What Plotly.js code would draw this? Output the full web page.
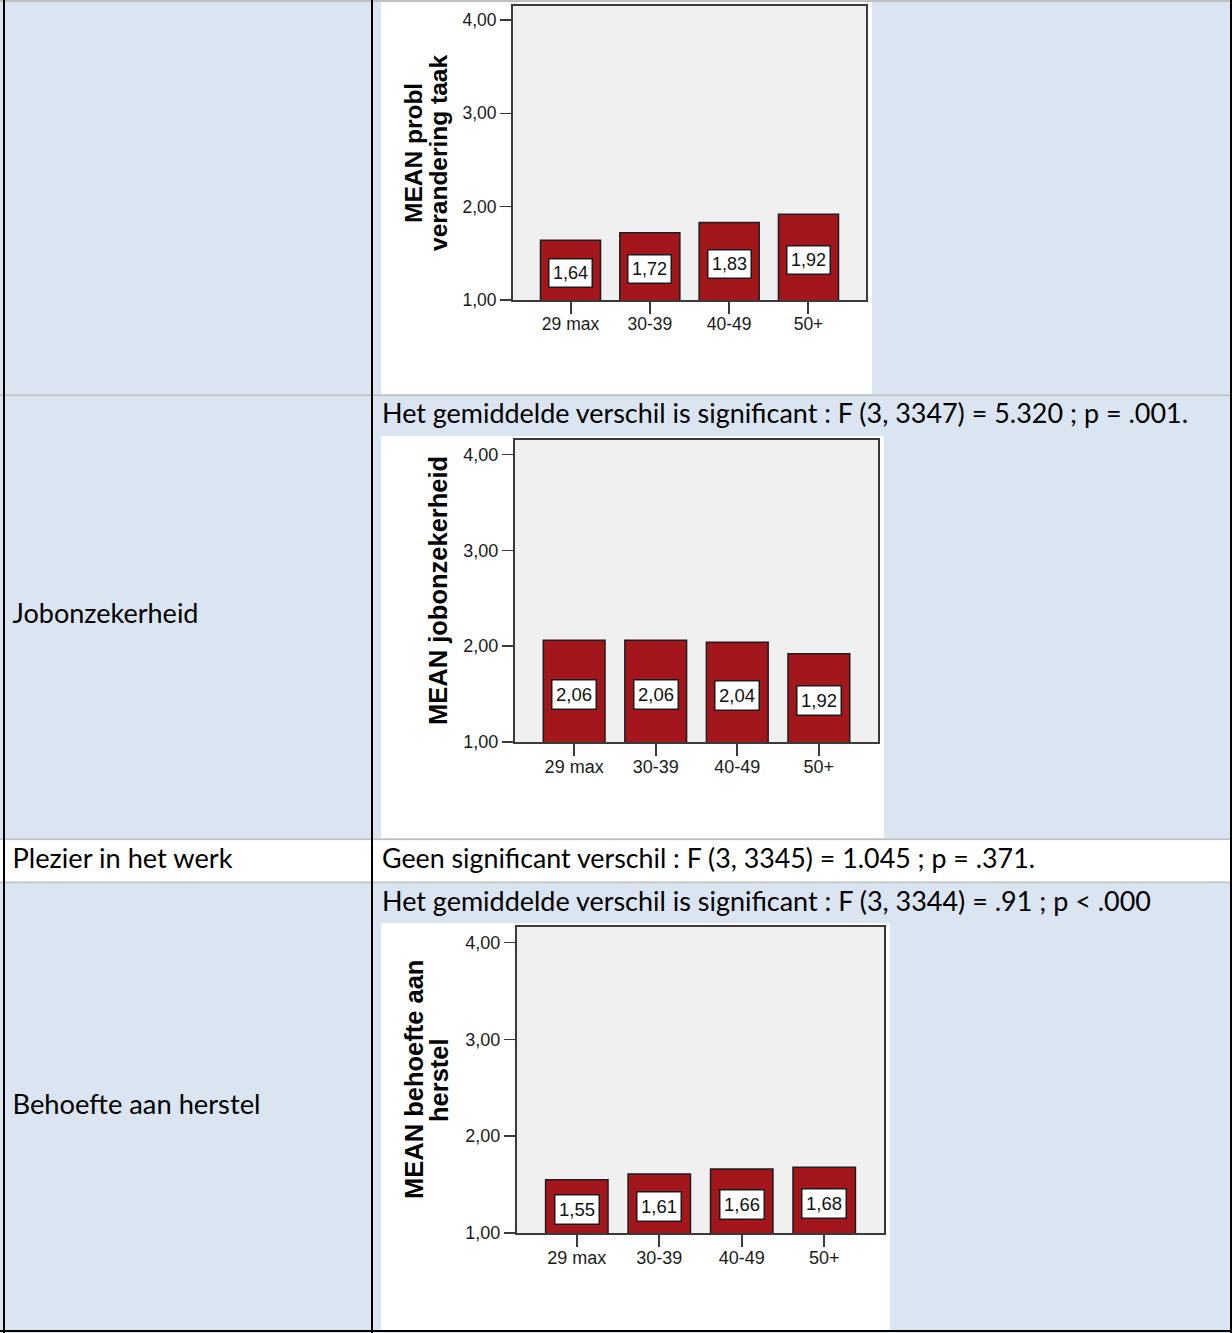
<!DOCTYPE html>
<html>
<head>
<meta charset="utf-8">
<script src="https://cdn.plot.ly/plotly-3.0.1.min.js"></script>
<style>
  html, body { margin: 0; padding: 0; background: #ffffff; }
  #page { position: relative; width: 1232px; height: 1333px; overflow: hidden; background: #ffffff; }
  .layer { position: absolute; left: 0; top: 0; width: 1232px; height: 1333px; }
  .chart { position: absolute; background: #ffffff; }
</style>
</head>
<body>
<div id="page">
  <svg id="bg" class="layer" width="1232" height="1333" style="z-index:0"></svg>
  <div id="c1" class="chart" style="z-index:1"></div>
  <div id="c2" class="chart" style="z-index:1"></div>
  <div id="c3" class="chart" style="z-index:1"></div>
  <svg id="fg" class="layer" width="1232" height="1333" style="z-index:2; pointer-events:none"></svg>
</div>
<script>
// ---------- data ----------
const categories = ['29 max', '30-39', '40-49', '50+'];
const problVeranderingTaak = [1.64, 1.72, 1.83, 1.92];
const jobonzekerheid = [2.06, 2.06, 2.04, 1.92];
const behoefteAanHerstel = [1.55, 1.61, 1.66, 1.68];
const yTickVals = [1, 2, 3, 4];
const yTickText = ['1,00', '2,00', '3,00', '4,00'];
const axisTitle1 = ['MEAN probl', 'verandering taak'];
const axisTitle2 = ['MEAN jobonzekerheid'];
const axisTitle3 = ['MEAN behoefte aan', 'herstel'];
const rowLabels = ['Jobonzekerheid', 'Plezier in het werk', 'Behoefte aan herstel'];
const rowTexts = [
  'Het gemiddelde verschil is significant : F (3, 3347) = 5.320 ; p = .001.',
  'Geen significant verschil : F (3, 3345) = 1.045 ; p = .371.',
  'Het gemiddelde verschil is significant : F (3, 3344) = .91 ; p < .000'
];

// ---------- table (background + lines + text) ----------
const NS = 'http://www.w3.org/2000/svg';
const BLUE = '#dbe5f1';
function el(svg, tag, attrs, txt) {
  const e = document.createElementNS(NS, tag);
  for (const k in attrs) e.setAttribute(k, attrs[k]);
  if (txt !== undefined) e.textContent = txt;
  svg.appendChild(e);
  return e;
}
const bg = document.getElementById('bg');
const fg = document.getElementById('fg');
// cell backgrounds
el(bg, 'rect', {x: 0, y: 0, width: 1232, height: 839, fill: BLUE});
el(bg, 'rect', {x: 0, y: 839, width: 1232, height: 43, fill: '#ffffff'});
el(bg, 'rect', {x: 0, y: 882, width: 1232, height: 451, fill: BLUE});
// horizontal grey rules
el(fg, 'rect', {x: 0, y: 0, width: 1232, height: 2, fill: '#bfbfbf'});
el(fg, 'rect', {x: 0, y: 394.5, width: 1232, height: 1.6, fill: '#bfbfbf'});
el(fg, 'rect', {x: 0, y: 838.5, width: 1232, height: 1.6, fill: '#bfbfbf'});
el(fg, 'rect', {x: 0, y: 881.5, width: 1232, height: 1.6, fill: '#bfbfbf'});
// black borders
el(fg, 'rect', {x: 3, y: 0, width: 2, height: 1333, fill: '#000'});
el(fg, 'rect', {x: 371, y: 0, width: 2, height: 1333, fill: '#000'});
el(fg, 'rect', {x: 1230, y: 0, width: 2, height: 1333, fill: '#000'});
el(fg, 'rect', {x: 0, y: 1330, width: 1232, height: 2, fill: '#000'});

const tFont = {'font-family': 'Lato, Carlito, Calibri, sans-serif', 'font-size': 26, fill: '#000', lengthAdjust: 'spacingAndGlyphs'};
function txt(x, y, w, s) {
  el(fg, 'text', Object.assign({x: x, y: y, textLength: w}, tFont), s);
}
txt(12.5, 623, 186, rowLabels[0]);
txt(12.5, 868, 220, rowLabels[1]);
txt(12.5, 1114, 248, rowLabels[2]);
txt(382, 423, 806, rowTexts[0]);
txt(382, 868, 653, rowTexts[1]);
txt(382, 911, 769, rowTexts[2]);

// ---------- charts ----------
const BAR = '#a3161b';
const FRAME = '#3a3a3a';
const SANS = '"Liberation Sans", Arial, sans-serif';
const fmt = v => v.toFixed(2).replace('.', ',');

function drawChart(id, box, values, titleLines, titleShifts, fs) {
  const d = document.getElementById(id);
  d.style.left = box.left + 'px';
  d.style.top = box.top + 'px';
  d.style.width = box.w + 'px';
  d.style.height = box.h + 'px';
  const tickFont = {family: SANS, size: fs.tick, color: '#1a1a1a'};
  const ann = values.map((v, i) => ({
    x: categories[i], y: (v + 1) / 2, xref: 'x', yref: 'y',
    text: fmt(v), showarrow: false, yshift: -3,
    font: {family: SANS, size: fs.val, color: '#111'},
    bgcolor: '#ffffff', bordercolor: '#1a1a1a', borderwidth: 1.5, borderpad: 3.5
  }));
  titleLines.forEach((t, i) => ann.push({
    xref: 'paper', yref: 'paper', x: 0, y: 0.5, xshift: titleShifts[i],
    xanchor: 'center', yanchor: 'middle', textangle: -90, showarrow: false,
    text: t, font: {family: SANS, size: fs.title, color: '#000', weight: 'bold'}
  }));
  const trace = {
    type: 'bar', x: categories, y: values,
    marker: {color: BAR, line: {color: '#1e1e1e', width: 1.5}},
    hoverinfo: 'skip'
  };
  const layout = {
    width: box.w, height: box.h,
    margin: box.m,
    paper_bgcolor: '#ffffff', plot_bgcolor: '#f0f0f0',
    showlegend: false, bargap: 0.243,
    xaxis: {
      type: 'category', range: [-0.725, 3.725],
      showline: true, mirror: true, linecolor: FRAME, linewidth: 2,
      ticks: 'outside', ticklen: 12, tickwidth: 2, tickcolor: FRAME,
      ticklabelstandoff: -5,
      tickfont: tickFont, showgrid: false, zeroline: false, fixedrange: true
    },
    yaxis: {
      range: [1, box.ytop], tickvals: yTickVals, ticktext: yTickText,
      showline: true, mirror: true, linecolor: FRAME, linewidth: 2,
      ticks: 'outside', ticklen: 11, tickwidth: 1.5, tickcolor: FRAME,
      tickfont: tickFont, showgrid: false, zeroline: false, fixedrange: true
    },
    annotations: ann
  };
  Plotly.newPlot(d, [trace], layout, {staticPlot: true, displayModeBar: false});
}

drawChart('c1', {left: 381, top: 0, w: 491, h: 394, m: {l: 132, r: 6, t: 6, b: 94}, ytop: 4.15},
  problVeranderingTaak, axisTitle1, [-100, -75], {tick: 17.5, val: 18, title: 24.5});
drawChart('c2', {left: 381, top: 436, w: 503, h: 402, m: {l: 134, r: 6, t: 4, b: 96}, ytop: 4.15},
  jobonzekerheid, axisTitle2, [-77], {tick: 18, val: 18.5, title: 25.5});
drawChart('c3', {left: 381, top: 923, w: 509, h: 407, m: {l: 136, r: 6, t: 4, b: 97}, ytop: 4.16},
  behoefteAanHerstel, axisTitle3, [-103, -78], {tick: 18, val: 18.5, title: 25.5});
</script>
</body>
</html>
